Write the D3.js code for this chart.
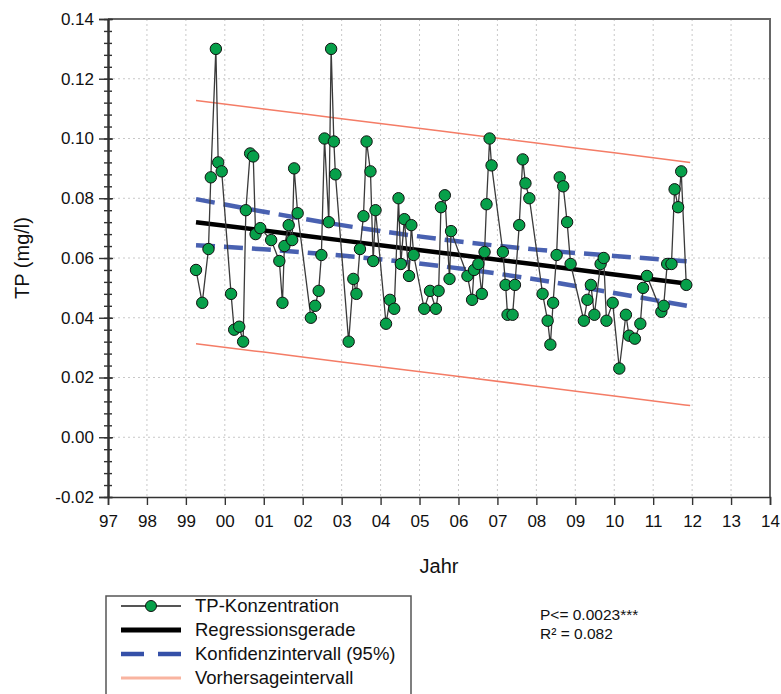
<!DOCTYPE html>
<html>
<head>
<meta charset="utf-8">
<script src="https://cdn.jsdelivr.net/npm/d3@7"></script>
<style>
  body { margin: 0; background: #fff; }
  svg text { font-family: Arial, "Liberation Sans", sans-serif; fill: #111; }
</style>
</head>
<body>
<div id="chart"></div>
<script>
// measured TP concentrations (decimal year, mg/l)
const years = [1999.26, 1999.42, 1999.58, 1999.64, 1999.77, 1999.83, 1999.92, 2000.16, 2000.24, 2000.37,
    2000.47, 2000.54, 2000.65, 2000.73, 2000.79, 2000.91, 2001.19, 2001.40, 2001.48, 2001.53,
    2001.64, 2001.73, 2001.78, 2001.87, 2002.21, 2002.32, 2002.41, 2002.48, 2002.56, 2002.67,
    2002.73, 2002.80, 2002.84, 2003.18, 2003.30, 2003.38, 2003.47, 2003.56, 2003.64, 2003.74,
    2003.81, 2003.87, 2004.14, 2004.24, 2004.35, 2004.46, 2004.52, 2004.61, 2004.73, 2004.79,
    2004.85, 2005.12, 2005.27, 2005.42, 2005.49, 2005.55, 2005.65, 2005.77, 2005.81, 2006.23,
    2006.35, 2006.40, 2006.51, 2006.60, 2006.67, 2006.72, 2006.80, 2006.85, 2007.14, 2007.21,
    2007.26, 2007.39, 2007.45, 2007.56, 2007.65, 2007.72, 2007.82, 2008.16, 2008.29, 2008.36,
    2008.43, 2008.52, 2008.60, 2008.69, 2008.79, 2008.88, 2009.22, 2009.31, 2009.40, 2009.49,
    2009.65, 2009.73, 2009.80, 2009.96, 2010.13, 2010.30, 2010.38, 2010.53, 2010.67, 2010.74,
    2010.84, 2011.21, 2011.27, 2011.36, 2011.47, 2011.55, 2011.64, 2011.72, 2011.85];
const tp = [0.056, 0.045, 0.063, 0.087, 0.130, 0.092, 0.089, 0.048, 0.036, 0.037,
    0.032, 0.076, 0.095, 0.094, 0.068, 0.070, 0.066, 0.059, 0.045, 0.064,
    0.071, 0.066, 0.090, 0.075, 0.040, 0.044, 0.049, 0.061, 0.100, 0.072,
    0.130, 0.099, 0.088, 0.032, 0.053, 0.048, 0.063, 0.074, 0.099, 0.089,
    0.059, 0.076, 0.038, 0.046, 0.043, 0.080, 0.058, 0.073, 0.054, 0.071,
    0.061, 0.043, 0.049, 0.043, 0.049, 0.077, 0.081, 0.053, 0.069, 0.054,
    0.046, 0.056, 0.058, 0.048, 0.062, 0.078, 0.100, 0.091, 0.062, 0.051,
    0.041, 0.041, 0.051, 0.071, 0.093, 0.085, 0.080, 0.048, 0.039, 0.031,
    0.045, 0.061, 0.087, 0.084, 0.072, 0.058, 0.039, 0.046, 0.051, 0.041,
    0.058, 0.060, 0.039, 0.045, 0.023, 0.041, 0.034, 0.033, 0.038, 0.050,
    0.054, 0.042, 0.044, 0.058, 0.058, 0.083, 0.077, 0.089, 0.051];

// regression line and bands, read at a few years
const bandYears = [1999.26, 2001, 2003, 2005.6, 2008, 2010, 2011.95];
const regression = [0.0720, 0.0692, 0.0659, 0.0617, 0.0578, 0.0545, 0.0513];
const confUpper = [0.0797, 0.0755, 0.0710, 0.0662, 0.0628, 0.0607, 0.0588];
const confLower = [0.0643, 0.0629, 0.0608, 0.0572, 0.0528, 0.0483, 0.0438];
const predUpper = [0.1127, 0.1099, 0.1066, 0.1024, 0.0985, 0.0952, 0.0920];
const predLower = [0.0313, 0.0285, 0.0252, 0.0210, 0.0171, 0.0138, 0.0106];

const xTicks = d3.range(1997, 2015);
const yTicks = [-0.02, 0.00, 0.02, 0.04, 0.06, 0.08, 0.10, 0.12, 0.14];
const yMinor = d3.range(-0.02, 0.1401, 0.004);

const legendLabels = ["TP-Konzentration", "Regressionsgerade", "Konfidenzintervall (95%)", "Vorhersageintervall"];
const statsLines = ["P<= 0.0023***", "R\u00b2 = 0.082"];

const W = 781, H = 694;
const plot = { left: 108, right: 770, top: 19, bottom: 497 };

const svg = d3.select("#chart").append("svg")
    .attr("width", W).attr("height", H);

const x = d3.scaleLinear().domain([1997, 2014]).range([plot.left, plot.right]);
const y = d3.scaleLinear().domain([-0.02, 0.14]).range([plot.bottom, plot.top]);

// grid
const grid = svg.append("g").attr("stroke", "#c8c8c8").attr("stroke-dasharray", "2,3").attr("stroke-width", 1);
grid.selectAll("line.v").data(xTicks.slice(1, -1)).join("line")
    .attr("x1", d => x(d)).attr("x2", d => x(d)).attr("y1", plot.top).attr("y2", plot.bottom);
grid.selectAll("line.h").data(yTicks.slice(1, -1)).join("line")
    .attr("x1", plot.left).attr("x2", plot.right).attr("y1", d => y(d)).attr("y2", d => y(d));

// frame top / right
svg.append("path")
    .attr("d", `M${plot.left},${plot.top}H${plot.right}V${plot.bottom}`)
    .attr("fill", "none").attr("stroke", "#666").attr("stroke-width", 2);

// prediction interval
const bandLine = arr => d3.line()
    .x((d, i) => x(bandYears[i]))
    .y(d => y(d))
    .curve(d3.curveMonotoneX)(arr);

[predUpper, predLower].forEach(arr => {
    svg.append("path").attr("d", bandLine(arr))
        .attr("fill", "none").attr("stroke", "#f47c66").attr("stroke-width", 1.5);
});

// confidence interval
[confUpper, confLower].forEach(arr => {
    svg.append("path").attr("d", bandLine(arr))
        .attr("fill", "none").attr("stroke", "#3550a8").attr("stroke-width", 4.5)
        .attr("stroke-dasharray", "19,9").attr("opacity", 0.9);
});

// regression
svg.append("path").attr("d", bandLine(regression))
    .attr("fill", "none").attr("stroke", "#000").attr("stroke-width", 4.5);

// data series
const pts = years.map((t, i) => ({ t: t, v: tp[i] }));
svg.append("path")
    .datum(pts)
    .attr("fill", "none").attr("stroke", "#3a3a3a").attr("stroke-width", 1.3)
    .attr("d", d3.line().x(d => x(d.t)).y(d => y(d.v)));

svg.append("g").selectAll("circle").data(pts).join("circle")
    .attr("cx", d => x(d.t)).attr("cy", d => y(d.v)).attr("r", 5.7)
    .attr("fill", "#07a04a").attr("stroke", "#111").attr("stroke-width", 1);

// axes
const yAxis = svg.append("g").attr("transform", `translate(${plot.left},0)`)
    .call(d3.axisLeft(y).tickValues(yTicks)
        .tickFormat(d => d3.format(".2f")(d).replace("\u2212", "-"))
        .tickSize(9).tickPadding(5));
svg.append("g").attr("transform", `translate(${plot.left},0)`)
    .call(d3.axisRight(y).tickValues(yTicks).tickFormat("").tickSize(5).tickSizeOuter(0));
svg.append("g").attr("transform", `translate(${plot.left},0)`)
    .call(d3.axisLeft(y).tickValues(yMinor).tickFormat("").tickSize(4).tickSizeOuter(0));
svg.append("g").attr("transform", `translate(${plot.left},0)`)
    .call(d3.axisRight(y).tickValues(yMinor).tickFormat("").tickSize(4).tickSizeOuter(0));

const xAxis = svg.append("g").attr("transform", `translate(0,${plot.bottom})`)
    .call(d3.axisBottom(x).tickValues(xTicks)
        .tickFormat(d => String(d % 100).padStart(2, "0")).tickSize(8).tickPadding(10));

svg.selectAll(".domain").attr("stroke", "#333").attr("stroke-width", 1.6);
svg.selectAll(".tick line").attr("stroke", "#333").attr("stroke-width", 1.4);
yAxis.selectAll("text").style("font-size", "17px").attr("fill", "#1a1a1a");
xAxis.selectAll("text").style("font-size", "17px").attr("fill", "#1a1a1a");

// axis titles
svg.append("text")
    .attr("transform", `translate(29,${(plot.top + plot.bottom) / 2}) rotate(-90)`)
    .attr("text-anchor", "middle").style("font-size", "20px")
    .text("TP (mg/l)");
svg.append("text")
    .attr("x", (plot.left + plot.right) / 2).attr("y", 573)
    .attr("text-anchor", "middle").style("font-size", "20px")
    .text("Jahr");

// legend
const lg = svg.append("g");
lg.append("rect").attr("x", 106).attr("y", 596).attr("width", 305).attr("height", 110)
    .attr("fill", "#fff").attr("stroke", "#555").attr("stroke-width", 1.5);

const rowY = i => 606 + i * 24;
const sx0 = 121, sx1 = 181;
lg.append("line").attr("x1", sx0).attr("x2", sx1).attr("y1", rowY(0)).attr("y2", rowY(0))
    .attr("stroke", "#555").attr("stroke-width", 2);
lg.append("circle").attr("cx", (sx0 + sx1) / 2).attr("cy", rowY(0)).attr("r", 5.5)
    .attr("fill", "#07a04a").attr("stroke", "#111");
lg.append("line").attr("x1", sx0).attr("x2", sx1).attr("y1", rowY(1)).attr("y2", rowY(1))
    .attr("stroke", "#000").attr("stroke-width", 5);
lg.append("line").attr("x1", sx0).attr("x2", sx1).attr("y1", rowY(2)).attr("y2", rowY(2))
    .attr("stroke", "#3550a8").attr("stroke-width", 4.5).attr("stroke-dasharray", "23,14");
lg.append("line").attr("x1", sx0).attr("x2", sx1).attr("y1", rowY(3)).attr("y2", rowY(3))
    .attr("stroke", "#f9b4a0").attr("stroke-width", 3);

lg.selectAll("text.lab").data(legendLabels).join("text")
    .attr("x", 195).attr("y", (d, i) => rowY(i) + 6.3)
    .style("font-size", "18.5px")
    .text(d => d);

svg.selectAll("text.stat").data(statsLines).join("text")
    .attr("x", 540).attr("y", (d, i) => 620 + i * 19)
    .style("font-size", "15.5px")
    .text(d => d);
</script>
</body>
</html>
